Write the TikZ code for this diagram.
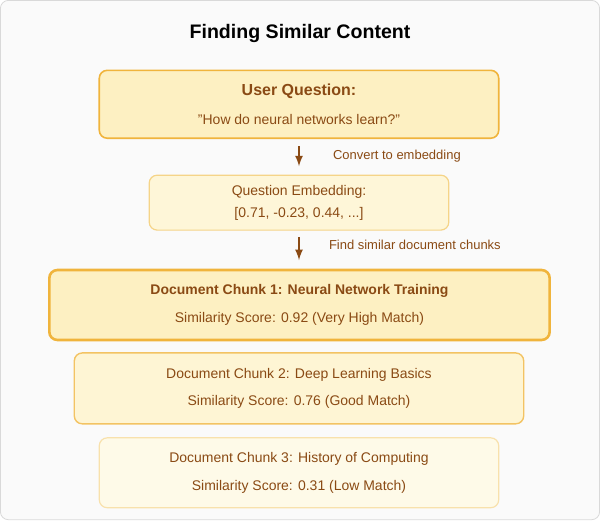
\documentclass[tikz,border=0pt]{standalone}
\usepackage{fontspec}
\setmainfont{Liberation Sans}
\usetikzlibrary{positioning}
\definecolor{txtbrown}{HTML}{8A4A14}
\definecolor{boxfill}{HTML}{FDF0C2}
\definecolor{boxline}{HTML}{F0B43C}
\definecolor{palefill}{HTML}{FEF6D8}
\definecolor{paleline}{HTML}{F5D488}
\begin{document}
\begin{tikzpicture}[x=0.5pt,y=-0.5pt,
    box/.style={draw, rounded corners=4pt, text=txtbrown, align=center, inner sep=0pt, font=\fontsize{7}{11}\selectfont},
    arr/.style={-latex, draw=txtbrown, line width=0.8pt},
    lbl/.style={anchor=west, text=txtbrown, font=\fontsize{6.5}{8}\selectfont}]
  \draw[fill=gray!4, draw=gray!30, rounded corners=4pt] (0,0) rectangle (600,520);
  \node[font=\bfseries\fontsize{9.8}{11}\selectfont] (title) at (300,33) {Finding Similar Content};
  % user question
  \node[box, fill=boxfill, draw=boxline, line width=0.8pt, minimum width=200pt, minimum height=34pt] (q) at (299,104)
    {{\bfseries\fontsize{8}{11}\selectfont User Question:}\\[4pt]\symbol{34}How do neural networks learn?\symbol{34}};
  \node[box, fill=palefill, draw=paleline, line width=0.6pt, minimum width=150pt, minimum height=27.5pt] (emb) at (299,202.5)
    {Question Embedding:\\{}[0.71, -0.23, 0.44, ...]};
  \draw[arr] (299,146) -- (299,166) coordinate (a1end);
  \node[lbl] (l1) at (326,156) {Convert to embedding};
  \draw[arr] (299,237) -- (299,260);
  \node[lbl] (l2) at (322,245) {Find similar document chunks};
  % chunks
  \node[box, fill=boxfill, draw=boxline, line width=1.3pt, minimum width=250.5pt, minimum height=35pt] (c1) at (299.5,305)
    {{\bfseries Document Chunk 1: Neural Network Training}\\[3pt]Similarity Score: 0.92 (Very High Match)};
  \node[box, fill=palefill!80!boxfill, draw=boxline!80!white, line width=0.7pt, minimum width=225pt, minimum height=35.5pt] (c2) at (299,388.5)
    {Document Chunk 2: Deep Learning Basics\\[3pt]Similarity Score: 0.76 (Good Match)};
  \node[box, fill=palefill!60!white, draw=paleline!70!white, line width=0.6pt, minimum width=200pt, minimum height=35pt] (c3) at (299,473)
    {Document Chunk 3: History of Computing\\[3pt]Similarity Score: 0.31 (Low Match)};
\end{tikzpicture}
\end{document}
